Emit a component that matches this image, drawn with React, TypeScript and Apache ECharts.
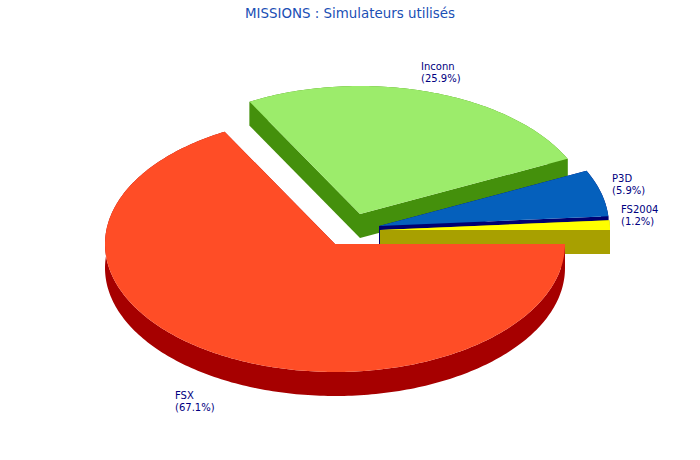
import React, { useEffect, useRef } from "react";
import * as echarts from "echarts";

const categories = ["FSX", "Inconn", "P3D", "FS2004"];
const shares = [67.1, 25.9, 5.9, 1.2];

const titleText = "MISSIONS : Simulateurs utilisés";

const RX = 230;
const RY = 128;
const DEPTH = 24;
const topColors = ["#FF4D26", "#9CEC6B", "#0560BC", "#FFFF00"];
const sideColors = ["#A60000", "#44900C", "#000070", "#A8A000"];
const centersX = [335, 360, 379, 380];
const centersY = [244, 214, 226, 230];
const drawRanks = [4, 1, 2, 3];
const labelX = [175, 421, 612, 621];
const labelY = [389, 60, 172, 203];

const total = shares.reduce((a, b) => a + b, 0);

function renderSlice(params: any, api: any) {
  const i = params.dataIndex;
  const value = api.value(0);
  let startDeg = 0;
  for (let k = 0; k < i; k++) startDeg += (shares[k] / total) * 360;
  const endDeg = startDeg + (value / total) * 360;
  const cx = centersX[i];
  const cy = centersY[i];
  const pt = (deg: number, dy = 0): number[] => {
    const a = (deg * Math.PI) / 180;
    return [cx + RX * Math.cos(a), cy + RY * Math.sin(a) + dy];
  };
  const arc: number[] = [];
  const n = Math.max(2, Math.ceil(endDeg - startDeg));
  for (let s = 0; s <= n; s++) arc.push(startDeg + ((endDeg - startDeg) * s) / n);

  const base = drawRanks[i] * 10;
  const side = { fill: sideColors[i] };
  const radialFace = (deg: number) => ({
    type: "polygon",
    z2: base,
    shape: { points: [[cx, cy], pt(deg), pt(deg, DEPTH), [cx, cy + DEPTH]] },
    style: side,
  });
  const rim = {
    type: "polygon",
    z2: base,
    shape: {
      points: [
        ...arc.map((d) => pt(d)),
        ...arc.slice().reverse().map((d) => pt(d, DEPTH)),
      ],
    },
    style: side,
  };
  const top = {
    type: "polygon",
    z2: base + 1,
    shape: { points: [[cx, cy], ...arc.map((d) => pt(d))] },
    style: { fill: topColors[i] },
  };
  const label = {
    type: "text",
    z2: 100,
    x: labelX[i],
    y: labelY[i],
    style: {
      text: `${categories[i]}\n(${value.toFixed(1)}%)`,
      fill: "#000080",
      fontFamily: "DejaVu Sans",
      fontSize: 10,
      lineHeight: 12,
      align: "left",
      verticalAlign: "top",
    },
  };
  return { type: "group", children: [rim, radialFace(startDeg), radialFace(endDeg), top, label] };
}

export default function App() {
  const ref = useRef<HTMLDivElement>(null);
  useEffect(() => {
    const chart = echarts.init(ref.current!, undefined, { renderer: "svg" });
    chart.setOption({
      animation: false,
      backgroundColor: "#ffffff",
      title: {
        text: titleText,
        left: "center",
        top: 2,
        textStyle: {
          color: "#1A4FB5",
          fontFamily: "DejaVu Sans",
          fontSize: 13.4,
          fontWeight: "normal",
        },
      },
      series: [
        {
          type: "custom",
          coordinateSystem: "none",
          silent: true,
          data: shares.map((v, i) => ({ name: categories[i], value: [v] })),
          renderItem: renderSlice,
        },
      ],
    });
    return () => chart.dispose();
  }, []);
  return (
    <div
      ref={ref}
      style={{ position: "absolute", left: 0, top: 0, width: 700, height: 460 }}
    />
  );
}
